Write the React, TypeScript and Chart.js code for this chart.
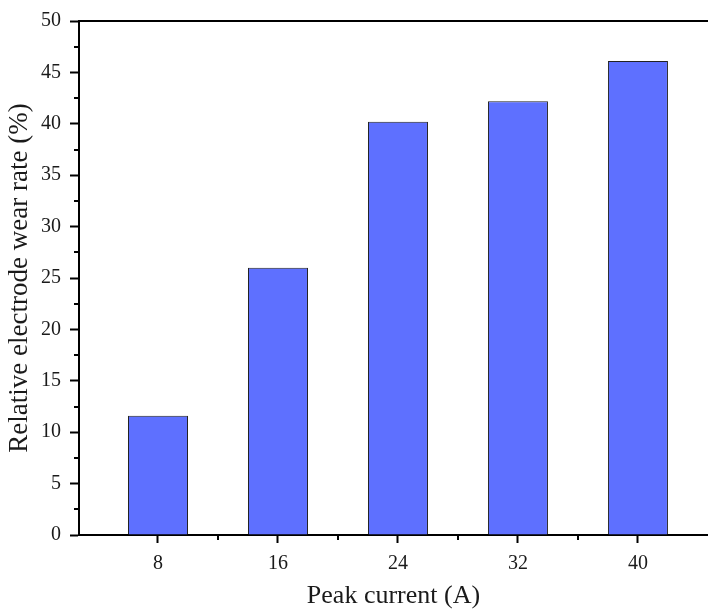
import React, { useEffect, useRef } from "react";
import { Chart, registerables } from "chart.js";

Chart.register(...registerables);

const peakCurrent: number[] = [8, 16, 24, 32, 40];
const wearRate: number[] = [11.6, 26.0, 40.2, 42.2, 46.1];
const xMajorTicks: number[] = [8, 16, 24, 32, 40];
const xMinorTicks: number[] = [12, 20, 28, 36];
const yMinorTicks: number[] = [2.5, 7.5, 12.5, 17.5, 22.5, 27.5, 32.5, 37.5, 42.5, 47.5];
const xTitle = "Peak current (A)";
const yTitle = "Relative electrode wear rate (%)";

const FONT = "'Liberation Serif', 'Times New Roman', serif";
const TEXT = "#1a1a1a";

const framePlugin = {
  id: "frame",
  afterDraw(chart: any) {
    const { ctx, chartArea, scales } = chart;
    const x = scales.x;
    const y = scales.y;
    ctx.save();
    ctx.strokeStyle = "#000";
    ctx.lineWidth = 2;
    ctx.beginPath();
    ctx.moveTo(chartArea.left - 1, chartArea.top);
    ctx.lineTo(chartArea.right, chartArea.top);
    ctx.stroke();
    ctx.beginPath();
    for (const v of xMinorTicks) {
      const px = Math.round(x.getPixelForValue(v));
      ctx.moveTo(px, chartArea.bottom);
      ctx.lineTo(px, chartArea.bottom + 5);
    }
    for (const v of yMinorTicks) {
      const py = Math.round(y.getPixelForValue(v));
      ctx.moveTo(chartArea.left, py);
      ctx.lineTo(chartArea.left - 5, py);
    }
    ctx.stroke();
    ctx.restore();
  },
};

export default function App() {
  const ref = useRef<HTMLCanvasElement | null>(null);

  useEffect(() => {
    if (!ref.current) return;
    const chart = new Chart(ref.current, {
      type: "bar",
      data: {
        datasets: [
          {
            data: peakCurrent.map((c, i) => ({ x: c, y: wearRate[i] })),
            backgroundColor: "#5E70FF",
            borderColor: "#222222",
            borderWidth: 1,
            barPercentage: 0.5,
            categoryPercentage: 1,
          },
        ],
      },
      options: {
        animation: false,
        responsive: false,
        maintainAspectRatio: false,
        layout: { padding: { top: 20, right: 0, left: 0, bottom: 0 } },
        plugins: { legend: { display: false }, tooltip: { enabled: false } },
        scales: {
          x: {
            type: "linear",
            offset: false,
            min: 2.733,
            max: 44.67,
            afterBuildTicks: (scale: any) => {
              scale.ticks = xMajorTicks.map((v) => ({ value: v }));
            },
            afterFit: (scale: any) => {
              scale.height = 75;
            },
            grid: {
              display: true,
              offset: false,
              drawOnChartArea: false,
              drawTicks: true,
              tickLength: 8,
              tickWidth: 2,
              tickColor: "#000",
            },
            border: { display: true, color: "#000", width: 2 },
            ticks: {
              autoSkip: false,
              maxRotation: 0,
              padding: 9,
              color: TEXT,
              font: { family: FONT, size: 20 },
            },
            title: {
              display: true,
              text: xTitle,
              color: TEXT,
              font: { family: FONT, size: 26 },
              padding: { top: 0, bottom: -2 },
            },
          },
          y: {
            min: 0,
            max: 50,
            afterFit: (scale: any) => {
              scale.width = 79;
            },
            grid: {
              display: true,
              drawOnChartArea: false,
              drawTicks: true,
              tickLength: 9,
              tickWidth: 2,
              tickColor: "#000",
            },
            border: { display: true, color: "#000", width: 2 },
            ticks: {
              stepSize: 5,
              padding: 9,
              color: TEXT,
              font: { family: FONT, size: 20 },
            },
            title: {
              display: true,
              text: yTitle,
              color: TEXT,
              font: { family: FONT, size: 27 },
              padding: { top: 4, bottom: 0 },
            },
          },
        },
      },
      plugins: [framePlugin],
    });
    return () => chart.destroy();
  }, []);

  return (
    <div style={{ position: "absolute", left: 0, top: 0, width: 708, height: 610, background: "#fff" }}>
      <canvas ref={ref} width={708} height={610} />
    </div>
  );
}
